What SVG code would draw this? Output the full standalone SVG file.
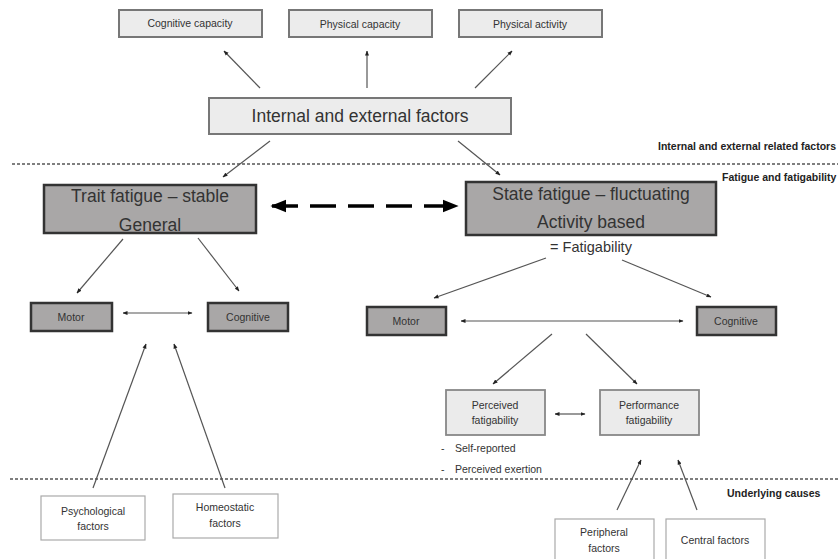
<svg xmlns="http://www.w3.org/2000/svg" width="838" height="559" viewBox="0 0 838 559">
<style>
text{font-family:"Liberation Sans",Arial,sans-serif;fill:#333;text-anchor:middle}
.sm{font-size:10.5px}
.big{font-size:17.5px}
.lbl{font-size:10.5px;font-weight:bold;fill:#222;text-anchor:start}
.top{fill:#ececec;stroke:#777;stroke-width:2}
.dark{fill:#a9a7a7;stroke:#333;stroke-width:2.5}
.light{fill:#ebebeb;stroke:#888;stroke-width:1.8}
.white{fill:#fff;stroke:#aaa;stroke-width:1.2}
.ln{stroke:#555;stroke-width:1.2;fill:none}
.sep{stroke:#555;stroke-width:1.5;stroke-dasharray:3,2;fill:none}
</style>
<defs>
<marker id="ah" viewBox="0 0 10 10" refX="9" refY="5" markerWidth="5" markerHeight="5" orient="auto-start-reverse" markerUnits="userSpaceOnUse">
<path d="M0,1 L10,5 L0,9 z" fill="#222"/>
</marker>
<marker id="bh" viewBox="0 0 10 10" refX="9" refY="5" markerWidth="16" markerHeight="16" orient="auto-start-reverse" markerUnits="userSpaceOnUse">
<path d="M0,1 L10,5 L0,9 z" fill="#000"/>
</marker>
</defs>
<rect width="838" height="559" fill="#fff"/>
<g id="separators">
<line class="sep" x1="12" y1="164" x2="838" y2="164"/>
<line class="sep" x1="10" y1="479" x2="838" y2="479"/>
<text class="lbl" x="836" y="150" style="text-anchor:end">Internal and external related factors</text>
<text class="lbl" x="722" y="181">Fatigue and fatigability</text>
<text class="lbl" x="727" y="497">Underlying causes</text>
</g>
<g id="connectors">
<line class="ln" x1="260" y1="88" x2="224" y2="51" marker-end="url(#ah)"/>
<line class="ln" x1="367" y1="88" x2="367" y2="51" marker-end="url(#ah)"/>
<line class="ln" x1="475" y1="88" x2="512" y2="51" marker-end="url(#ah)"/>
<line class="ln" x1="270" y1="141" x2="223" y2="177" marker-end="url(#ah)"/>
<line class="ln" x1="458" y1="141" x2="500" y2="175" marker-end="url(#ah)"/>
<line x1="272" y1="206" x2="457" y2="206" stroke="#000" stroke-width="3.5" stroke-dasharray="26,12" marker-start="url(#bh)" marker-end="url(#bh)"/>
<line class="ln" x1="123" y1="239" x2="77" y2="293" marker-end="url(#ah)"/>
<line class="ln" x1="198" y1="238" x2="239" y2="291" marker-end="url(#ah)"/>
<line class="ln" x1="123" y1="313" x2="192" y2="313" marker-start="url(#ah)" marker-end="url(#ah)"/>
<line class="ln" x1="546" y1="258" x2="434" y2="298" marker-end="url(#ah)"/>
<line class="ln" x1="622" y1="260" x2="711" y2="297" marker-end="url(#ah)"/>
<line class="ln" x1="461" y1="321" x2="683" y2="321" marker-start="url(#ah)" marker-end="url(#ah)"/>
<line class="ln" x1="552" y1="334" x2="493" y2="384" marker-end="url(#ah)"/>
<line class="ln" x1="586" y1="334" x2="637" y2="384" marker-end="url(#ah)"/>
<line class="ln" x1="555" y1="414" x2="585" y2="414" marker-start="url(#ah)" marker-end="url(#ah)"/>
<line class="ln" x1="617" y1="510" x2="641" y2="460" marker-end="url(#ah)"/>
<line class="ln" x1="697" y1="510" x2="678" y2="460" marker-end="url(#ah)"/>
<line class="ln" x1="93" y1="488" x2="146" y2="344" marker-end="url(#ah)"/>
<line class="ln" x1="225" y1="488" x2="174" y2="344" marker-end="url(#ah)"/>
</g>
<g id="cognitive-capacity"><rect class="top" x="119" y="10" width="143" height="27"/><text class="sm" x="190" y="27">Cognitive capacity</text></g>
<g id="physical-capacity"><rect class="top" x="289" y="10" width="143" height="27"/><text class="sm" x="360" y="28">Physical capacity</text></g>
<g id="physical-activity"><rect class="top" x="459" y="10" width="143" height="27"/><text class="sm" x="530" y="28">Physical activity</text></g>
<g id="internal-external"><rect class="top" x="209" y="98" width="302" height="36"/><text class="big" x="360" y="122">Internal and external factors</text></g>
<g id="trait-fatigue"><rect class="dark" x="44" y="185" width="212" height="48"/><text class="big" x="150" y="202">Trait fatigue – stable</text><text class="big" x="150" y="231">General</text></g>
<g id="state-fatigue"><rect class="dark" x="466" y="182" width="250" height="53"/><text class="big" x="591" y="200">State fatigue – fluctuating</text><text class="big" x="591" y="228">Activity based</text><text font-size="14.5" x="591" y="252">= Fatigability</text></g>
<g id="motor-left"><rect class="dark" x="31" y="303" width="81" height="28"/><text class="sm" x="71" y="321">Motor</text></g>
<g id="cognitive-left"><rect class="dark" x="208" y="303" width="80" height="28"/><text class="sm" x="248" y="321">Cognitive</text></g>
<g id="motor-right"><rect class="dark" x="367" y="307" width="79" height="28"/><text class="sm" x="406" y="325">Motor</text></g>
<g id="cognitive-right"><rect class="dark" x="697" y="307" width="79" height="28"/><text class="sm" x="736" y="325">Cognitive</text></g>
<g id="perceived-fatigability"><rect class="light" x="446" y="390" width="99" height="45"/><text class="sm" x="495" y="409">Perceived</text><text class="sm" x="495" y="424">fatigability</text>
<text class="sm" x="441" y="452" style="text-anchor:start">-</text><text class="sm" x="455" y="452" style="text-anchor:start">Self-reported</text>
<text class="sm" x="441" y="473" style="text-anchor:start">-</text><text class="sm" x="455" y="473" style="text-anchor:start">Perceived exertion</text></g>
<g id="performance-fatigability"><rect class="light" x="600" y="390" width="99" height="45"/><text class="sm" x="649" y="409">Performance</text><text class="sm" x="649" y="424">fatigability</text></g>
<g id="psychological-factors"><rect class="white" x="41" y="496" width="104" height="44"/><text class="sm" x="93" y="515">Psychological</text><text class="sm" x="93" y="530">factors</text></g>
<g id="homeostatic-factors"><rect class="white" x="173" y="494" width="105" height="44"/><text class="sm" x="225" y="511">Homeostatic</text><text class="sm" x="225" y="527">factors</text></g>
<g id="peripheral-factors"><rect class="white" x="555" y="519" width="99" height="44"/><text class="sm" x="604" y="536">Peripheral</text><text class="sm" x="604" y="552">factors</text></g>
<g id="central-factors"><rect class="white" x="666" y="519" width="99" height="44"/><text class="sm" x="715" y="544">Central factors</text></g>
</svg>
